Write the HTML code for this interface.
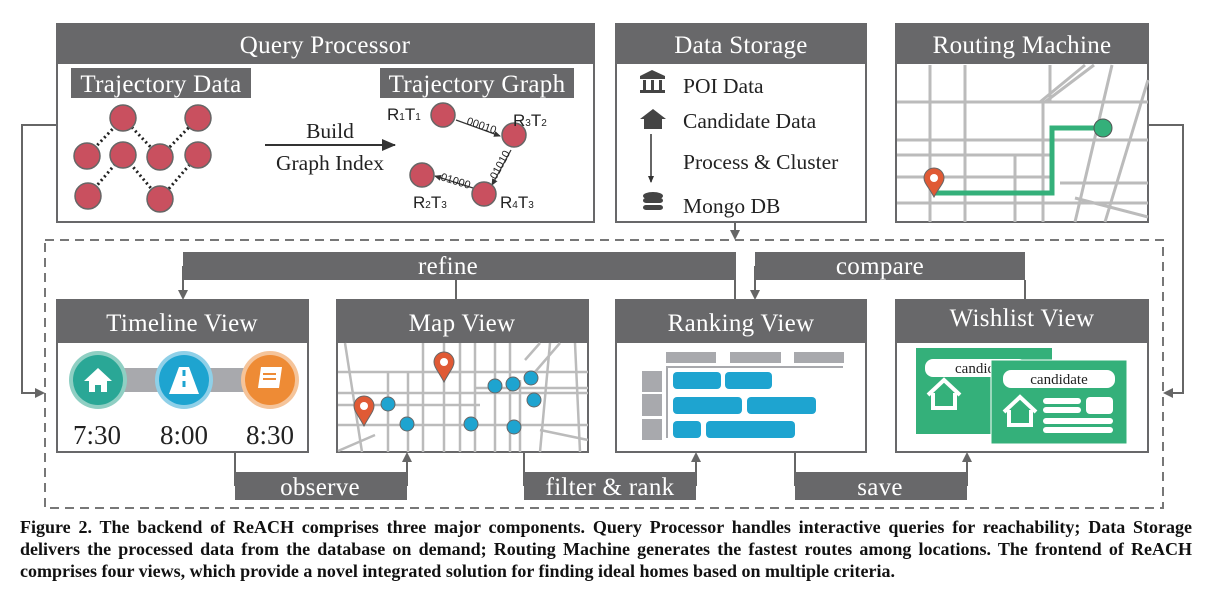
<!DOCTYPE html>
<html><head><meta charset="utf-8"><style>
body{margin:0;background:#fff;width:1212px;height:602px;overflow:hidden;position:relative}
svg{display:block}
.h{font-family:"Liberation Serif",serif;font-size:25px;fill:#fff;text-anchor:middle;letter-spacing:0.3px}
.t{font-family:"Liberation Serif",serif;font-size:21.5px;fill:#222}
.cap{position:absolute;left:20px;width:1172px;font-family:"Liberation Serif",serif;font-weight:bold;font-size:18px;line-height:21.5px;color:#111;white-space:nowrap}
.j{text-align:justify;text-align-last:justify;white-space:normal}
</style></head><body>
<svg width="1212" height="602" viewBox="0 0 1212 602">
<defs>
<marker id="a" markerWidth="10" markerHeight="10" refX="8" refY="5" orient="auto" markerUnits="userSpaceOnUse"><path d="M0,0 L10,5 L0,10z" fill="#666"/></marker>
<marker id="b" markerWidth="14" markerHeight="12" refX="13" refY="6" orient="auto" markerUnits="userSpaceOnUse"><path d="M0,0 L14,6 L0,12z" fill="#333"/></marker>
<marker id="s" markerWidth="7" markerHeight="6" refX="6" refY="3" orient="auto" markerUnits="userSpaceOnUse"><path d="M0,0 L7,3 L0,6z" fill="#333"/></marker>
</defs>
<g fill="none" stroke="#666" stroke-width="2">
<rect x="45" y="240" width="1118" height="268" stroke-dasharray="9,6" stroke="#777"/>
<path d="M57,125 H22 V393 H43" marker-end="url(#a)"/>
<path d="M1148,125 H1183 V393 H1165" marker-end="url(#a)"/>
<path d="M735,222 V238" marker-end="url(#a)"/>
<path d="M183,266 V298" marker-end="url(#a)"/>
<path d="M456,280 V300 M735,266 V300 M1025,280 V300"/>
<path d="M755,266 V298" marker-end="url(#a)"/>
<path d="M235,452 V486 M524,452 V486 M795,452 V486"/>
<path d="M407,486 V454" marker-end="url(#a)"/>
<path d="M696,486 V454" marker-end="url(#a)"/>
<path d="M967,486 V454" marker-end="url(#a)"/>
</g>
<g fill="#68686a">
<rect x="183" y="252" width="553" height="28"/>
<rect x="755" y="252" width="270" height="28"/>
<rect x="235" y="472" width="172" height="28"/>
<rect x="524" y="472" width="172" height="28"/>
<rect x="795" y="472" width="172" height="28"/>
</g>
<g>
<text x="448" y="274" class="h" font-size="24">refine</text>
<text x="880" y="274" class="h" font-size="24">compare</text>
<text x="320" y="495" class="h" font-size="24">observe</text>
<text x="610" y="495" class="h" font-size="24">filter &amp; rank</text>
<text x="880" y="495" class="h" font-size="24">save</text>
</g>
<g stroke="#68686a" stroke-width="2" fill="#fff">
<rect x="57" y="24" width="537" height="198"/>
<rect x="616" y="24" width="250" height="198"/>
<rect x="896" y="24" width="252" height="198"/>
<rect x="57" y="300" width="251" height="152"/>
<rect x="337" y="300" width="251" height="152"/>
<rect x="616" y="300" width="250" height="152"/>
<rect x="896" y="300" width="252" height="152"/>
</g>
<g fill="#68686a">
<rect x="57" y="24" width="537" height="40"/>
<rect x="616" y="24" width="250" height="40"/>
<rect x="896" y="24" width="252" height="40"/>
<rect x="57" y="300" width="251" height="43"/>
<rect x="337" y="300" width="251" height="43"/>
<rect x="616" y="300" width="250" height="43"/>
<rect x="896" y="300" width="252" height="43"/>
<rect x="71" y="68" width="180" height="30"/>
<rect x="380" y="68" width="194" height="30"/>
</g>
<text x="325" y="53" class="h">Query Processor</text>
<text x="741" y="53" class="h">Data Storage</text>
<text x="1022" y="53" class="h">Routing Machine</text>
<text x="161" y="92" class="h">Trajectory Data</text>
<text x="477" y="92" class="h">Trajectory Graph</text>
<text x="182" y="331" class="h">Timeline View</text>
<text x="462" y="331" class="h">Map View</text>
<text x="741" y="331" class="h">Ranking View</text>
<text x="1022" y="326" class="h">Wishlist View</text>
<g stroke="#222" stroke-width="3" stroke-dasharray="2,3" fill="none">
<path d="M87,156 L123,118 L160,157 L198,118"/>
<path d="M88,196 L123,155 L160,199 L198,155"/>
</g>
<g fill="#c9505f" stroke="#666" stroke-width="1.5">
<circle cx="123" cy="118" r="13"/><circle cx="198" cy="118" r="13"/>
<circle cx="87" cy="156" r="13"/><circle cx="123" cy="155" r="13"/><circle cx="160" cy="157" r="13"/><circle cx="198" cy="155" r="13"/>
<circle cx="88" cy="196" r="13"/><circle cx="160" cy="199" r="13"/>
</g>
<path d="M265,145 H395" stroke="#333" stroke-width="2" marker-end="url(#b)"/>
<text x="330" y="138" class="t" text-anchor="middle">Build</text>
<text x="330" y="170" class="t" text-anchor="middle">Graph Index</text>
<g stroke="#333" stroke-width="1.2" fill="none">
<path d="M456,120 L500,136" marker-end="url(#s)"/>
<path d="M511,150 L492,185" marker-end="url(#s)"/>
<path d="M473,188 L435,176" marker-end="url(#s)"/>
</g>
<g font-family="Liberation Sans,sans-serif" font-size="11" fill="#222">
<text x="466" y="124" transform="rotate(19 466 124)">00010</text>
<text x="496" y="180" transform="rotate(-62 496 180)">01010</text>
<text x="440" y="180" transform="rotate(17 440 180)">01000</text>
</g>
<g fill="#c9505f" stroke="#666" stroke-width="1.5">
<circle cx="443" cy="115" r="12"/><circle cx="514" cy="135" r="12"/><circle cx="422" cy="175" r="12"/><circle cx="484" cy="194" r="12"/>
</g>
<g font-family="Liberation Sans,sans-serif" font-size="17" fill="#222">
<text x="387" y="120">R<tspan font-size="10">1</tspan>T<tspan font-size="10">1</tspan></text>
<text x="513" y="126">R<tspan font-size="10">3</tspan>T<tspan font-size="10">2</tspan></text>
<text x="413" y="208">R<tspan font-size="10">2</tspan>T<tspan font-size="10">3</tspan></text>
<text x="500" y="208">R<tspan font-size="10">4</tspan>T<tspan font-size="10">3</tspan></text>
</g>
<g fill="#444">
<rect x="640" y="76" width="25" height="3"/><path d="M640,76 L652,70 L665,76z"/><rect x="643" y="80" width="3" height="10"/><rect x="651" y="80" width="3" height="10"/><rect x="659" y="80" width="3" height="10"/><rect x="640" y="90" width="25" height="3"/>
<path d="M640,119 L653,109 L666,119 L662,119 L662,129 L644,129 L644,119z"/>
<ellipse cx="653" cy="196" rx="10" ry="4"/><rect x="643" y="198" width="20" height="5" rx="3"/><rect x="643" y="205" width="20" height="5" rx="3"/>
</g>
<path d="M651,134 V182" stroke="#333" stroke-width="1.5" marker-end="url(#s)"/>
<g class="t"><text x="683" y="93">POI Data</text><text x="683" y="128">Candidate Data</text><text x="683" y="169">Process &amp; Cluster</text><text x="683" y="213">Mongo DB</text></g>
<g stroke="#bbb" stroke-width="3" fill="none">
<path d="M897,102 H1148 M897,140 H1148 M897,155 H1050 M897,177 H1050 M897,203 H1148 M1060,183 H1148 M1075,198 L1148,217"/>
<path d="M930,65 V222 M965,65 V222 M1015,155 V222 M1043,102 V222 M1050,65 V102 M1040,102 L1085,65 M1045,102 L1094,65 M1112,65 L1075,222 M1148,80 L1105,222"/>
</g>
<path d="M934,193 H1052 V128 H1103" stroke="#34b07a" stroke-width="5" fill="none"/>
<circle cx="1103" cy="128" r="9" fill="#34b07a" stroke="#555"/>
<path d="M934,197 C928,186 924,183 924,178 A10,10 0 0 1 944,178 C944,183 940,186 934,197z" fill="#e05a35" stroke="#666"/>
<circle cx="934" cy="178" r="4" fill="#fff"/>
<rect x="98" y="368" width="171" height="24" fill="#a8a9ad"/>
<circle cx="98" cy="380" r="29" fill="#8fcfc3"/><circle cx="98" cy="380" r="25" fill="#2aa796"/>
<circle cx="184" cy="380" r="29" fill="#8fd0e8"/><circle cx="184" cy="380" r="25" fill="#1ea4d0"/>
<circle cx="270" cy="380" r="29" fill="#f5c49a"/><circle cx="270" cy="380" r="25" fill="#ee8b35"/>
<path d="M84,381 L98,368 L112,381 L107,381 L107,392 L101,392 L101,385 L95,385 L95,392 L89,392 L89,381z" fill="#fff"/>
<path d="M179,367 H189 L199,394 H169z" fill="#fff"/><path d="M184,370 V376 M184,381 V387" stroke="#1ea4d0" stroke-width="3"/>
<path d="M261,367 H282 L279,388 H258z" fill="#fff"/><path d="M263,374 H276 M263,379 H276" stroke="#ee8b35" stroke-width="2"/>
<g class="t" text-anchor="middle"><text x="97" y="444" font-size="27">7:30</text><text x="184" y="444" font-size="27">8:00</text><text x="270" y="444" font-size="27">8:30</text></g>
<g stroke="#bbb" stroke-width="2.5" fill="none">
<path d="M338,372 H588 M338,393 H588 M338,405 H480 M338,425 H588 M475,388 H588 M338,451 L375,435 M540,430 L588,440"/>
<path d="M345,343 L362,452 M388,372 V452 M408,372 V452 M423,343 V452 M444,343 V452 M460,343 V452 M475,343 V452 M495,343 V452 M510,343 V452 M520,380 V452 M550,343 L540,452 M575,343 L580,452 M560,343 L535,372 M540,343 L525,360"/>
</g>
<g fill="#1ea4d0" stroke="#666" stroke-width="1"><circle cx="388" cy="404" r="7"/><circle cx="407" cy="424" r="7"/><circle cx="471" cy="424" r="7"/><circle cx="495" cy="386" r="7"/><circle cx="513" cy="384" r="7"/><circle cx="531" cy="378" r="7"/><circle cx="534" cy="400" r="7"/><circle cx="514" cy="427" r="7"/></g>
<path d="M364,426 C358,415 354,411 354,406 A10,10 0 0 1 374,406 C374,411 370,415 364,426z" fill="#e05a35" stroke="#666"/><circle cx="364" cy="406" r="4" fill="#fff"/>
<path d="M444,382 C438,371 434,367 434,362 A10,10 0 0 1 454,362 C454,367 450,371 444,382z" fill="#e05a35" stroke="#666"/><circle cx="444" cy="362" r="4" fill="#fff"/>
<g fill="#a8a9ad"><rect x="666" y="352" width="50" height="11"/><rect x="730" y="352" width="51" height="11"/><rect x="794" y="352" width="50" height="11"/><rect x="642" y="371" width="20" height="21"/><rect x="642" y="394" width="20" height="22"/><rect x="642" y="419" width="20" height="21"/></g>
<path d="M667,438 V367 H843" stroke="#a8a9ad" stroke-width="2" fill="none"/>
<g fill="#1ea4d0"><rect x="673" y="372" width="48" height="17" rx="4"/><rect x="725" y="372" width="47" height="17" rx="4"/><rect x="673" y="397" width="69" height="17" rx="4"/><rect x="747" y="397" width="69" height="17" rx="4"/><rect x="673" y="421" width="28" height="17" rx="4"/><rect x="706" y="421" width="89" height="17" rx="4"/></g>
<rect x="916" y="348" width="136" height="86" fill="#34b07a"/>
<rect x="925" y="359" width="102" height="18" rx="8" fill="#fff"/>
<text x="955" y="373" font-family="Liberation Serif,serif" font-size="15" fill="#222">candid</text>
<path d="M928,395 L944,380 L960,395 M933,393 V408 H955 V393" stroke="#fff" stroke-width="4" fill="none"/>
<rect x="991" y="360" width="136" height="84" fill="#34b07a" stroke="#fff" stroke-width="1"/>
<rect x="1003" y="370" width="112" height="18" rx="8" fill="#fff"/>
<text x="1059" y="384" text-anchor="middle" font-family="Liberation Serif,serif" font-size="15" fill="#222">candidate</text>
<path d="M1004,412 L1020,397 L1036,412 M1009,410 V425 H1031 V410" stroke="#fff" stroke-width="4" fill="none"/>
<g fill="#fff"><rect x="1043" y="398" width="38" height="6" rx="3"/><rect x="1043" y="407" width="38" height="6" rx="3"/><rect x="1086" y="397" width="27" height="17" rx="4"/><rect x="1043" y="418" width="70" height="6" rx="3"/><rect x="1043" y="427" width="70" height="6" rx="3"/></g>
</svg>
<div class="cap j" style="top:517px">Figure 2. The backend of ReACH comprises three major components. Query Processor handles interactive queries for reachability; Data Storage</div>
<div class="cap j" style="top:539px">delivers the processed data from the database on demand; Routing Machine generates the fastest routes among locations. The frontend of ReACH</div>
<div class="cap" style="top:561px">comprises four views, which provide a novel integrated solution for finding ideal homes based on multiple criteria.</div>
</body></html>
